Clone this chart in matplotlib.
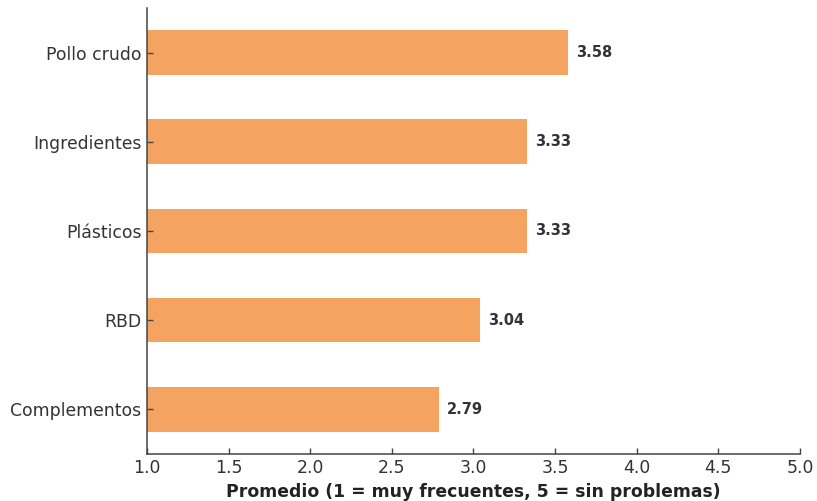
import matplotlib
matplotlib.use("Agg")
import matplotlib.pyplot as plt

plt.rcParams["font.family"] = ["DejaVu Sans"]

categories = ["Pollo crudo", "Ingredientes", "Plásticos", "RBD", "Complementos"]
values = [3.58, 3.33, 3.33, 3.04, 2.79]
xticks = [1.0, 1.5, 2.0, 2.5, 3.0, 3.5, 4.0, 4.5, 5.0]

fig = plt.figure(figsize=(8.17, 5.01), dpi=100)
ax = fig.add_axes([0.18, 0.094, 0.799, 0.890])

# bottom category first on the y axis
cats_rev = categories[::-1]
vals_rev = values[::-1]
ypos = list(range(len(cats_rev)))
ax.barh(ypos, [v - 1.0 for v in vals_rev], left=1.0, height=0.5, color="#F4A460")

for y, v in zip(ypos, vals_rev):
    ax.text(v + 0.05, y, f"{v:.2f}", va="center", ha="left",
            fontsize=10.5, fontweight="bold", color="#333333")

ax.set_yticks(ypos)
ax.set_yticklabels(cats_rev, fontsize=12.4, color="#333333")
ax.set_xlim(1.0, 5.0)
ax.set_ylim(-0.5, 4.5)
ax.set_xticks(xticks)
ax.set_xticklabels([f"{t:.1f}" for t in xticks], fontsize=12.4, color="#333333")
ax.set_xlabel("Promedio (1 = muy frecuentes, 5 = sin problemas)",
              fontsize=12.4, fontweight="bold", color="#222222", labelpad=4)
ax.tick_params(direction="in", length=4, width=1, color="#444444", pad=4)

for s in ["top", "right"]:
    ax.spines[s].set_visible(False)
for s in ["left", "bottom"]:
    ax.spines[s].set_color("#444444")
    ax.spines[s].set_linewidth(1.1)

fig.savefig("out.png", dpi=100)
